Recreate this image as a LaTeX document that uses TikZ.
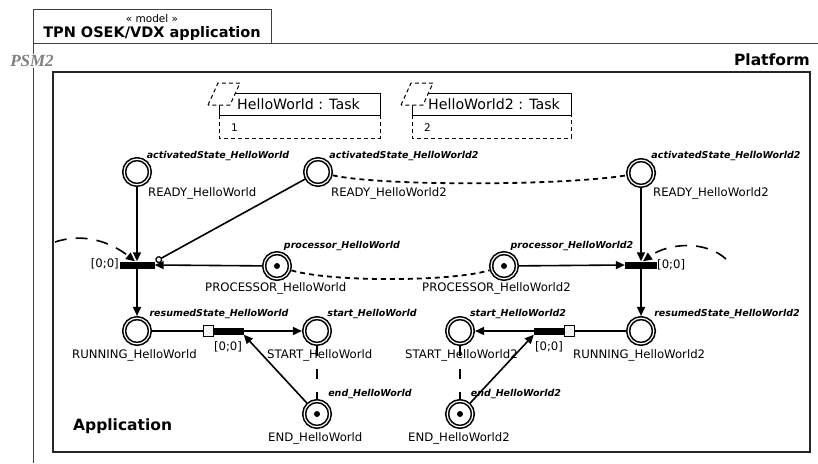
\documentclass[tikz,border=0pt]{standalone}
\usepackage{fontspec}
\setmainfont{DejaVu Sans}
\newfontfamily\psmfont{Liberation Serif}
\usetikzlibrary{arrows.meta}
\begin{document}
\begin{tikzpicture}[x=1pt,y=-1pt,
  place/.style={circle,draw,line width=1.6pt,double,double distance=1.2pt,minimum size=25.7pt,inner sep=0pt,outer sep=2.2pt},
  trans/.style={rectangle,fill=black,inner sep=0pt,minimum height=7pt},
  wsq/.style={rectangle,draw,fill=black!4,line width=0.8pt,inner sep=0pt,minimum width=10pt,minimum height=11pt},
  arc/.style={line width=1.6pt,-{Triangle[length=9pt,width=8pt]}},
  plainarc/.style={line width=1.6pt},
  dotline/.style={line width=1.8pt,dash pattern=on 5pt off 4pt},
  longdash/.style={line width=1.6pt,dash pattern=on 12pt off 9pt,-{Triangle[length=9pt,width=8pt]}},
  vdash/.style={line width=1.6pt,dash pattern=on 10pt off 13pt},
  pname/.style={font=\fontsize{11.7}{13}\selectfont,inner sep=0pt,anchor=west},
  plabel/.style={font=\fontsize{9.5}{11}\selectfont\bfseries\itshape,inner sep=0pt},
  tlabel/.style={font=\fontsize{11.7}{13}\selectfont,inner sep=0pt},
  frameline/.style={line width=1pt,draw=black!75},
  taskbox/.style={line width=1pt},
  taskdash/.style={line width=1pt,dash pattern=on 4pt off 3pt},
  tasktext/.style={font=\fontsize{14.2}{16}\selectfont,inner sep=0pt,anchor=west},
  tasknum/.style={font=\fontsize{10.5}{12}\selectfont,inner sep=0pt,anchor=west},
]
\useasboundingbox (0,0) rectangle (818,463);

% frames
\draw[frameline] (33,463) -- (33,43) -- (818,43);
\draw[frameline] (33,9) rectangle (271,43);
\node[inner sep=0pt,font=\fontsize{10.5}{12}\selectfont] (stereo) at (152,19) {« model »};
\node[inner sep=0pt,font=\fontsize{14.5}{16}\selectfont\bfseries] (mname) at (152,33) {TPN OSEK/VDX application};
\node[fill=white,inner sep=1pt,text=black!50,font=\psmfont\fontsize{17}{19}\selectfont\bfseries\itshape] (psm) at (32,61) {PSM2};
\node[anchor=east,inner sep=0pt,font=\fontsize{15.5}{17}\selectfont\bfseries] (platform) at (810,60) {Platform};
\draw[line width=1.2pt,draw=black!85] (53,72) rectangle (810,452);
\node[anchor=west,inner sep=0pt,font=\fontsize{15.5}{17}\selectfont\bfseries] (app) at (73,426) {Application};

% task boxes
\draw[taskbox] (219,93) rectangle (380,115);
\draw[taskdash] (219,115) rectangle (380,138);
\filldraw[taskdash,fill=white] (208,105) -- (218,83) -- (240,83) -- (230,105) -- cycle;
\node[tasktext] (task1) at (237,104) {HelloWorld : Task};
\node[tasknum] (num1) at (231,128) {1};

\draw[taskbox] (412,93) rectangle (571,115);
\draw[taskdash] (412,115) rectangle (571,138);
\filldraw[taskdash,fill=white] (401,105) -- (411,83) -- (433,83) -- (423,105) -- cycle;
\node[tasktext] (task2) at (428,104) {HelloWorld2 : Task};
\node[tasknum] (num2) at (424,128) {2};

% places
\node[place] (R1) at (137,172) {};
\node[place] (R2a) at (318,172) {};
\node[place] (R2b) at (641,173) {};
\node[place] (P1) at (277,266) {};
\node[place] (P2) at (504,266) {};
\node[place] (RUN1) at (137,331) {};
\node[place] (S1) at (317,331) {};
\node[place] (E1) at (317,414) {};
\node[place] (S2) at (460,331) {};
\node[place] (E2) at (460,414) {};
\node[place] (RUN2) at (641,331) {};

\fill (P1.center) circle (3pt);
\fill (P2.center) circle (3pt);
\fill (E1.center) circle (3pt);
\fill (E2.center) circle (3pt);

% transitions
\node[trans,minimum width=35pt] (T1) at (137,265) {};
\node[trans,minimum width=32pt] (T2) at (641,265) {};
\node[trans,minimum width=31pt] (T3) at (228,331) {};
\node[wsq] (W1) at (208,331) {};
\node[trans,minimum width=30pt] (T4) at (549,331) {};
\node[wsq] (W2) at (569,331) {};

% arcs left
\draw[arc] (R1) -- (T1);
\draw[arc] (T1) -- (RUN1);
\draw[arc] (P1) -- (T1.east);
\draw[plainarc,-{Circle[open,length=7pt,line width=1.3pt]}] (R2a) -- ([xshift=1pt]T1.north east);
\coordinate (lfree) at (55,242);
\draw[longdash] (lfree) .. controls (85,232) and (112,243) .. ([xshift=-2pt]T1.north);

% arcs right
\draw[arc] (R2b) -- (T2);
\draw[arc] (T2) -- (RUN2);
\draw[arc] (P2) -- (T2.west);
\coordinate (rfree) at (726,259);
\draw[longdash] (rfree) .. controls (705,240) and (668,243) .. ([xshift=2pt]T2.north);

% bottom
\draw[plainarc] (RUN1) -- (W1);
\draw[arc] (T3) -- (S1);
\draw[arc] (E1) -- (T3.south east);
\draw[vdash] (S1) -- (E1);
\draw[plainarc] (RUN2) -- (W2);
\draw[arc] (T4) -- (S2);
\draw[arc] (E2) -- (T4.south west);
\draw[vdash] (S2) -- (E2);

% dotted links
\draw[dotline] (R2a) .. controls (380,186) and (560,186) .. (R2b);
\draw[dotline] (P1) .. controls (330,282) and (450,282) .. (P2);

% place labels
\node[plabel] at (218,156) {activatedState\_HelloWorld};
\node[plabel] at (404,156) {activatedState\_HelloWorld2};
\node[plabel] at (726,156) {activatedState\_HelloWorld2};
\node[plabel] at (342,246) {processor\_HelloWorld};
\node[plabel] at (572,246) {processor\_HelloWorld2};
\node[plabel] at (219,314) {resumedState\_HelloWorld};
\node[plabel] at (372,314) {start\_HelloWorld};
\node[plabel] at (370,394) {end\_HelloWorld};
\node[plabel] at (518,314) {start\_HelloWorld2};
\node[plabel] at (516,394) {end\_HelloWorld2};
\node[plabel] at (727,314) {resumedState\_HelloWorld2};

\node[pname] at (148,193) {READY\_HelloWorld};
\node[pname] at (331,193) {READY\_HelloWorld2};
\node[pname] at (653,193) {READY\_HelloWorld2};
\node[pname] at (205,288) {PROCESSOR\_HelloWorld};
\node[pname] at (422,288) {PROCESSOR\_HelloWorld2};
\node[pname] at (72,355) {RUNNING\_HelloWorld};
\node[pname] at (267,355) {START\_HelloWorld};
\node[pname] at (268,438) {END\_HelloWorld};
\node[pname] at (405,355) {START\_HelloWorld2};
\node[pname] at (408,438) {END\_HelloWorld2};
\node[pname] at (573,355) {RUNNING\_HelloWorld2};

% transition labels
\node[tlabel,anchor=east] at (119,264) {[0;0]};
\node[tlabel,anchor=west] at (657,265) {[0;0]};
\node[tlabel] at (228,347) {[0;0]};
\node[tlabel] at (549,347) {[0;0]};
\end{tikzpicture}
\end{document}
